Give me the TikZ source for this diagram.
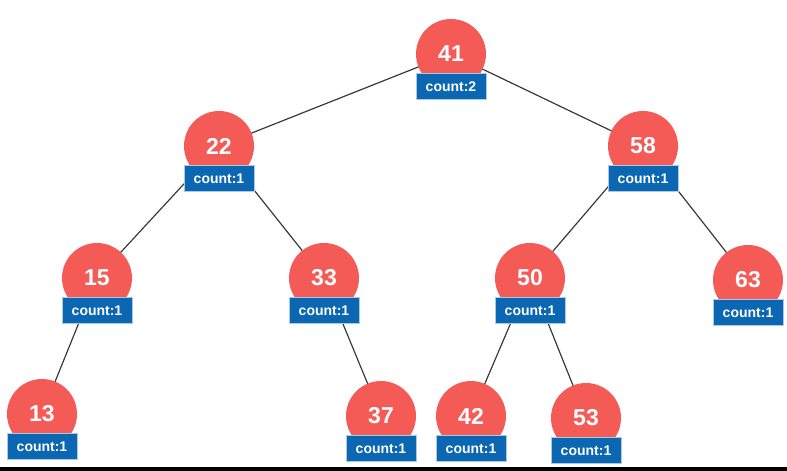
\documentclass[tikz,border=0pt]{standalone}
\usepackage{fontspec}
\setmainfont{Liberation Sans}
\usepackage{tikz}
\usetikzlibrary{positioning,backgrounds}
\definecolor{keyred}{HTML}{F45B57}
\definecolor{countblue}{HTML}{0B67B2}
\definecolor{linkgray}{HTML}{3A3A3A}

\begin{document}
\begin{tikzpicture}[x=1pt, y=1pt,
  key/.style={circle, fill=keyred, minimum size=70pt, inner sep=0pt, text=white,
    font=\bfseries\fontsize{23}{23}\selectfont},
  cnt/.style={fill=countblue, draw=white!65!countblue, line width=0.6pt,
    minimum width=70pt, minimum height=26pt, inner sep=0pt, text=white,
    font=\bfseries\fontsize{14}{14}\selectfont},
  link/.style={linkgray, line width=1.2pt}]
  \useasboundingbox (0,0) rectangle (787,-471);
  % Keys
  \node[key] (n41) at (451,-54) {41};
  \node[key] (n22) at (219,-146) {22};
  \node[key] (n58) at (643,-146) {58};
  \node[key] (n15) at (97,-278) {15};
  \node[key] (n33) at (324,-278) {33};
  \node[key] (n50) at (530,-278) {50};
  \node[key] (n63) at (748,-280) {63};
  \node[key] (n13) at (42,-414) {13};
  \node[key] (n37) at (381,-416) {37};
  \node[key] (n42) at (471,-416) {42};
  \node[key] (n53) at (586,-418) {53};
  % Counts
  \node[cnt, below=-16pt of n41] (c41) {count:2};
  \node[cnt, below=-16pt of n22] (c22) {count:1};
  \node[cnt, below=-16pt of n58] (c58) {count:1};
  \node[cnt, below=-16pt of n15] (c15) {count:1};
  \node[cnt, below=-16pt of n33] (c33) {count:1};
  \node[cnt, below=-16pt of n50] (c50) {count:1};
  \node[cnt, below=-16pt of n63] (c63) {count:1};
  \node[cnt, below=-16pt of n13] (c13) {count:1};
  \node[cnt, below=-16pt of n37] (c37) {count:1};
  \node[cnt, below=-16pt of n42] (c42) {count:1};
  \node[cnt, below=-16pt of n53] (c53) {count:1};
  % Links
  \begin{scope}[on background layer]
    \draw[link] (n41.center) -- (n22.center);
    \draw[link] (n41.center) -- (n58.center);
    \draw[link] (n22.center) -- (n15.center);
    \draw[link] (n22.center) -- (n33.center);
    \draw[link] (n58.center) -- (n50.center);
    \draw[link] (n58.center) -- (n63.center);
    \draw[link] (n15.center) -- (n13.center);
    \draw[link] (n33.center) -- (n37.center);
    \draw[link] (n50.center) -- (n42.center);
    \draw[link] (n50.center) -- (n53.center);
  \end{scope}
  % Bottom strip
  \fill[black] (0,-467) rectangle (787,-471);
\end{tikzpicture}
\end{document}
